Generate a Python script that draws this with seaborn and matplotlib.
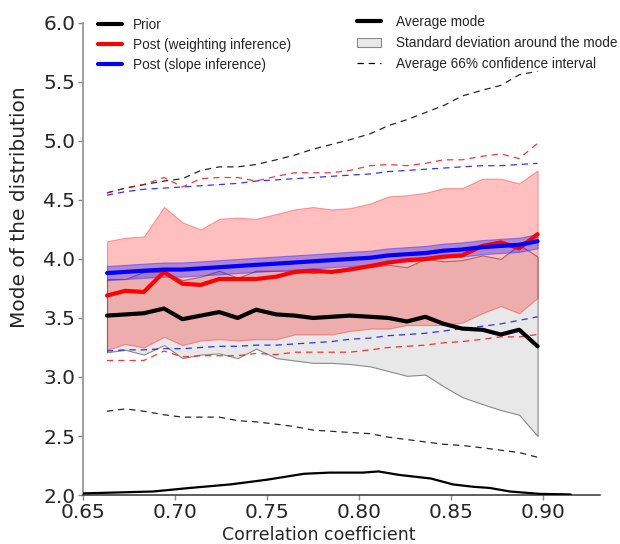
import numpy as np
import seaborn as sns
import matplotlib.pyplot as plt
from matplotlib.lines import Line2D
from matplotlib.patches import Patch

# ---------------- values ----------------
corr = [0.663, 0.673, 0.683, 0.694, 0.704, 0.714, 0.724, 0.734, 0.744, 0.755, 0.765, 0.775,
        0.785, 0.795, 0.806, 0.816, 0.826, 0.836, 0.846, 0.856, 0.867, 0.877, 0.887, 0.897]

prior_mode = [3.52, 3.53, 3.54, 3.58, 3.49, 3.52, 3.55, 3.50, 3.57, 3.53, 3.52, 3.50,
              3.51, 3.52, 3.51, 3.50, 3.47, 3.51, 3.45, 3.41, 3.40, 3.36, 3.40, 3.26]
prior_std = [0.31, 0.30, 0.35, 0.31, 0.33, 0.33, 0.35, 0.34, 0.33, 0.37, 0.38, 0.38,
             0.39, 0.41, 0.42, 0.45, 0.46, 0.49, 0.53, 0.58, 0.63, 0.64, 0.72, 0.76]
prior_ci_low = [2.71, 2.73, 2.71, 2.68, 2.66, 2.66, 2.66, 2.63, 2.62, 2.60, 2.58, 2.55,
                2.54, 2.53, 2.52, 2.49, 2.47, 2.45, 2.43, 2.42, 2.40, 2.38, 2.36, 2.32]
prior_ci_high = [4.56, 4.60, 4.63, 4.66, 4.68, 4.75, 4.78, 4.78, 4.80, 4.84, 4.88, 4.93,
                 4.97, 5.01, 5.06, 5.13, 5.18, 5.24, 5.30, 5.38, 5.43, 5.47, 5.56, 5.59]

weight_mode = [3.69, 3.73, 3.72, 3.89, 3.79, 3.78, 3.83, 3.83, 3.83, 3.85, 3.89, 3.90,
               3.89, 3.91, 3.94, 3.97, 3.99, 4.00, 4.02, 4.03, 4.11, 4.14, 4.09, 4.21]
weight_std = [0.46, 0.45, 0.47, 0.55, 0.52, 0.47, 0.51, 0.52, 0.51, 0.53, 0.53, 0.54,
              0.53, 0.52, 0.53, 0.56, 0.55, 0.56, 0.58, 0.57, 0.57, 0.54, 0.55, 0.54]
weight_ci_low = [3.14, 3.14, 3.14, 3.22, 3.17, 3.18, 3.18, 3.18, 3.20, 3.19, 3.21, 3.21,
                 3.21, 3.21, 3.23, 3.25, 3.26, 3.27, 3.29, 3.30, 3.32, 3.34, 3.34, 3.36]
weight_ci_high = [4.56, 4.60, 4.63, 4.69, 4.61, 4.68, 4.69, 4.69, 4.66, 4.70, 4.73, 4.73,
                  4.73, 4.75, 4.79, 4.80, 4.79, 4.81, 4.84, 4.84, 4.87, 4.89, 4.85, 4.98]

slope_mode = [3.88, 3.89, 3.90, 3.91, 3.91, 3.92, 3.93, 3.94, 3.95, 3.96, 3.97, 3.98,
              3.99, 4.00, 4.01, 4.03, 4.04, 4.05, 4.07, 4.08, 4.10, 4.11, 4.12, 4.15]
slope_std = [0.06] * 24
slope_ci_low = [3.22, 3.23, 3.23, 3.24, 3.24, 3.25, 3.26, 3.26, 3.27, 3.27, 3.28, 3.29,
                3.30, 3.32, 3.33, 3.35, 3.36, 3.37, 3.39, 3.41, 3.43, 3.45, 3.48, 3.51]
slope_ci_high = [4.54, 4.57, 4.59, 4.60, 4.61, 4.62, 4.63, 4.64, 4.66, 4.67, 4.68, 4.69,
                 4.70, 4.71, 4.72, 4.74, 4.75, 4.76, 4.77, 4.78, 4.79, 4.79, 4.80, 4.81]

# distribution of correlation coefficients drawn along the bottom
dens_x = [0.650, 0.688, 0.708, 0.730, 0.750, 0.770, 0.784, 0.802, 0.8105, 0.822,
          0.839, 0.851, 0.862, 0.871, 0.882, 0.898, 0.915]
dens_y = [2.014, 2.03, 2.06, 2.09, 2.13, 2.18, 2.19, 2.19, 2.20, 2.17,
          2.14, 2.09, 2.07, 2.06, 2.03, 2.01, 2.005]

yticks = [2.0, 2.5, 3.0, 3.5, 4.0, 4.5, 5.0, 5.5, 6.0]
xticks = [0.65, 0.70, 0.75, 0.80, 0.85, 0.90]

# ---------------- plotting ----------------
custom_params = {"axes.spines.right": False, "axes.spines.top": False}
sns.set_theme(style="ticks", rc=custom_params)
plt.rcParams['font.family'] = ['DejaVu Sans']

fig = plt.figure(figsize=(6.2, 5.44), dpi=100)
ax = fig.add_axes([0.134, 0.090, 0.834, 0.868])

x = np.array(corr)
pm, ps = np.array(prior_mode), np.array(prior_std)
wm, ws = np.array(weight_mode), np.array(weight_std)
sm, ss = np.array(slope_mode), np.array(slope_std)

ax.fill_between(x, pm - ps, pm + ps, facecolor='#e8e8e8', edgecolor='#888888', lw=0.8, zorder=1)
ax.fill_between(x, wm - ws, wm + ws, facecolor=(1, 0, 0, 0.25), edgecolor=(1, 0, 0, 0.35), lw=0.8, zorder=2)
ax.fill_between(x, sm - ss, sm + ss, facecolor=(0, 0, 1, 0.3), edgecolor=(0.2, 0.2, 1, 0.5), lw=0.8, zorder=3)

dash = (0, (5, 4))
for lo, hi, c in [(prior_ci_low, prior_ci_high, 'black'),
                  (weight_ci_low, weight_ci_high, 'red'),
                  (slope_ci_low, slope_ci_high, 'blue')]:
    alpha = 0.85 if c == 'black' else 0.8
    sns.lineplot(x=corr, y=lo, ax=ax, color=c, lw=0.9, ls=dash, alpha=alpha, zorder=4)
    sns.lineplot(x=corr, y=hi, ax=ax, color=c, lw=0.9, ls=dash, alpha=alpha, zorder=4)

sns.lineplot(x=corr, y=prior_mode, ax=ax, color='black', lw=3, zorder=5)
sns.lineplot(x=corr, y=weight_mode, ax=ax, color='red', lw=3, zorder=6)
sns.lineplot(x=corr, y=slope_mode, ax=ax, color='blue', lw=3, zorder=7)
sns.lineplot(x=dens_x, y=dens_y, ax=ax, color='black', lw=1.6, zorder=5)

ax.set_xlim(0.65, 0.931)
ax.set_ylim(2.0, 6.0)
ax.set_xticks(xticks)
ax.set_xticklabels([f'{t:.2f}' for t in xticks])
ax.set_yticks(yticks)
ax.set_yticklabels([f'{t:.1f}' for t in yticks])
ax.tick_params(axis='both', labelsize=14.5, length=3.5, width=1, color='#888888', pad=2)

ax.spines['left'].set_color('#999999')
ax.spines['left'].set_linewidth(1.3)
ax.spines['bottom'].set_color('#333333')
ax.spines['bottom'].set_linewidth(1.1)

ax.set_xlabel('Correlation coefficient', fontsize=12.5)
ax.set_ylabel('Mode of the distribution', fontsize=14.5)
ax.xaxis.set_label_coords(0.455, -0.066)
ax.yaxis.set_label_coords(-0.104, 0.609)

leg_font = {'family': 'Liberation Sans', 'size': 9.8}
h1 = [Line2D([], [], color='black', lw=3),
      Line2D([], [], color='red', lw=3),
      Line2D([], [], color='blue', lw=3)]
leg1 = ax.legend(h1, ['Prior', 'Post (weighting inference)', 'Post (slope inference)'],
                 loc='upper left', bbox_to_anchor=(0.019, 1.022), frameon=False, prop=leg_font,
                 handlelength=1.75, handletextpad=0.8, labelspacing=0.45, borderaxespad=0)
ax.add_artist(leg1)

h2 = [Line2D([], [], color='black', lw=3),
      Patch(facecolor='#e8e8e8', edgecolor='#888888', lw=0.8),
      Line2D([], [], color='black', lw=0.9, ls=dash)]
ax.legend(h2, ['Average mode', 'Standard deviation around the mode', 'Average 66% confidence interval'],
          loc='upper left', bbox_to_anchor=(0.52, 1.028), frameon=False, prop=leg_font,
          handlelength=1.7, handletextpad=1.1, labelspacing=0.52, borderaxespad=0)

plt.savefig('out.png', dpi=100)
